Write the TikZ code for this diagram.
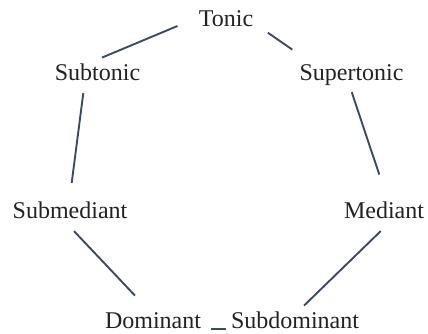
\documentclass[tikz,border=0pt]{standalone}
\usepackage{fontspec}
\setmainfont{Liberation Serif}
\usepackage{xcolor}
\usetikzlibrary{positioning, calc}

\definecolor{linkcol}{RGB}{62,74,100}
\definecolor{textcol}{RGB}{34,34,34}

\begin{document}
\begin{tikzpicture}[
    x=0.5pt, y=-0.5pt,
    degree/.style={anchor=base, inner sep=0pt, text height=8pt, text depth=2.5pt, text=textcol, font=\fontsize{12}{14}\selectfont},
    link/.style={draw=linkcol, line width=0.95pt}
  ]
  \useasboundingbox (0,0) rectangle (428,333);
  % Nodes
  \node[degree] (tonic) at (226,26) {Tonic};
  \node[degree] (subtonic) at (97.5,80) {Subtonic};
  \node[degree] (supertonic) at (351.5,80) {Supertonic};
  \node[degree] (submediant) at (70,218) {Submediant};
  \node[degree] (mediant) at (384,218) {Mediant};
  \node[degree] (dominant) at (153,328) {Dominant};
  \node[degree] (subdominant) at (295,328) {Subdominant};

  % Connections
  \draw[link] ([xshift=-10.5pt]tonic.base west) -- ([shift={(2.25pt,3pt)}]subtonic.north);
  \draw[link] ([shift={(7.15pt,-3.35pt)}]tonic.base east) -- ([shift={(-3.4pt,7pt)}]supertonic.north west);
  \draw[link] ([shift={(-7.1pt,-3.85pt)}]subtonic.south) -- ([shift={(0.85pt,9.35pt)}]submediant.north);
  \draw[link] ([shift={(0.1pt,-3.35pt)}]supertonic.south) -- ([shift={(-2.35pt,13.5pt)}]mediant.north);
  \draw[link] ([shift={(2pt,-3.85pt)}]submediant.south) -- ([shift={(-9pt,8pt)}]dominant.north);
  \draw[link] ([shift={(-1.65pt,-3.85pt)}]mediant.south) -- ([shift={(4.5pt,3pt)}]subdominant.north);
  \draw[link] ([shift={(5pt,-0.5pt)}]dominant.base east) -- ([shift={(-2.5pt,-0.5pt)}]subdominant.base west);
\end{tikzpicture}
\end{document}
